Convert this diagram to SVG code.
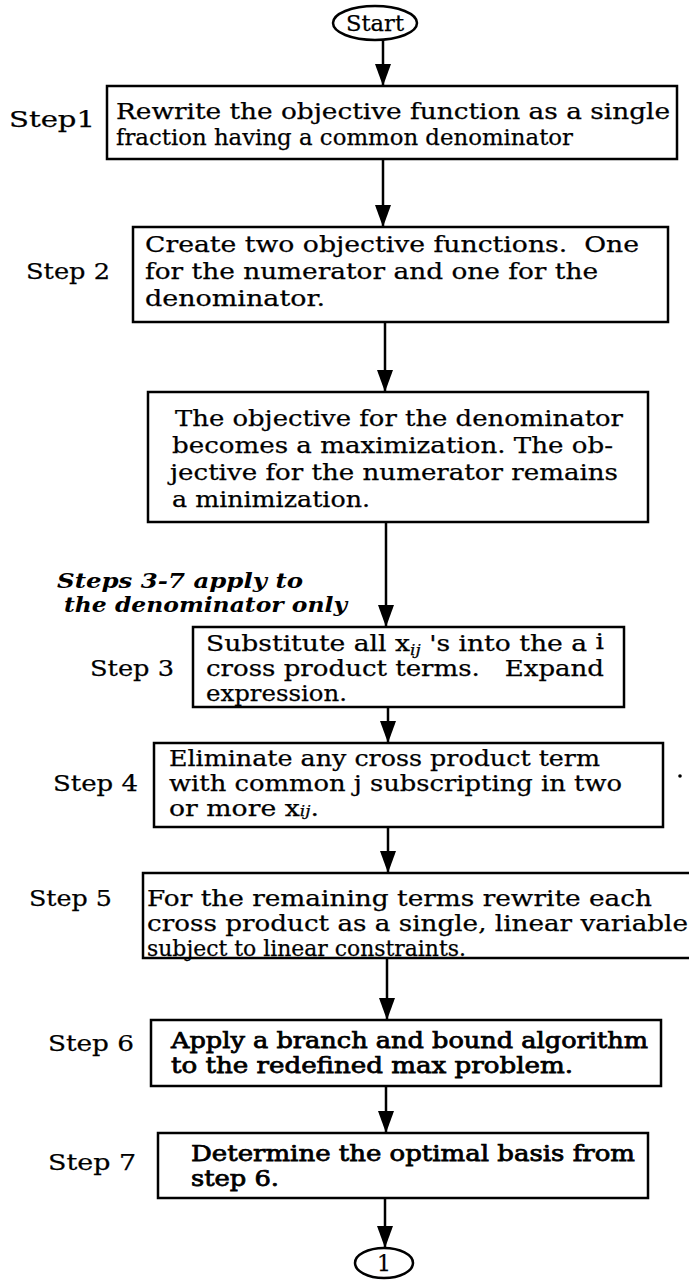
<svg xmlns="http://www.w3.org/2000/svg" width="689" height="1281" viewBox="0 0 689 1281">
<style>
  .box { fill: #fff; stroke: #000; stroke-width: 2.5; }
  .term { fill: #fff; stroke: #000; stroke-width: 2.5; }
  .t { font-family: "DejaVu Serif", "Liberation Serif", serif; font-size: 22px; fill: #000; stroke: #000; stroke-width: 0.25; }
  .b { stroke-width: 0.75; }
  .lbl { font-family: "DejaVu Serif", "Liberation Serif", serif; font-size: 23px; fill: #000; stroke: #000; stroke-width: 0.25; }
  .note { font-family: "DejaVu Serif", "Liberation Serif", serif; font-size: 20px; font-weight: bold; font-style: italic; fill: #000; }
  .sub { font-size: 14px; font-style: italic; }
  .conn { stroke: #000; stroke-width: 2.5; fill: none; marker-end: url(#ah); }
</style>
<defs>
  <marker id="ah" viewBox="0 0 22 16" refX="22" refY="8" markerWidth="22" markerHeight="16" markerUnits="userSpaceOnUse" orient="auto">
    <path d="M0,0 L22,8 L0,16 z" fill="#000"/>
  </marker>
</defs>
<rect width="689" height="1281" fill="#fff"/>

<g id="connectors">
  <line class="conn" x1="383" y1="40" x2="383" y2="86"/>
  <line class="conn" x1="383" y1="159" x2="383" y2="227"/>
  <line class="conn" x1="385" y1="322" x2="385" y2="392"/>
  <line class="conn" x1="386" y1="522" x2="386" y2="627"/>
  <line class="conn" x1="388" y1="707" x2="388" y2="743"/>
  <line class="conn" x1="388" y1="827" x2="388" y2="873"/>
  <line class="conn" x1="387" y1="958" x2="387" y2="1020"/>
  <line class="conn" x1="386" y1="1086" x2="386" y2="1133"/>
  <line class="conn" x1="385" y1="1198" x2="385" y2="1248"/>
</g>

<g id="start">
  <ellipse class="term" cx="375" cy="23" rx="42" ry="17"/>
  <text class="t" x="375" y="31" text-anchor="middle" textLength="58" lengthAdjust="spacingAndGlyphs">Start</text>
</g>

<g id="step1">
  <text class="lbl" x="9" y="127" textLength="86" lengthAdjust="spacingAndGlyphs">Step1</text>
  <rect class="box" x="107" y="86" width="570" height="73"/>
  <text class="t" x="116" y="119" textLength="554" lengthAdjust="spacingAndGlyphs">Rewrite the objective function as a single</text>
  <text class="t" x="116" y="145" textLength="457" lengthAdjust="spacingAndGlyphs">fraction having a common denominator</text>
</g>

<g id="step2">
  <text class="lbl" x="26" y="279" textLength="84" lengthAdjust="spacingAndGlyphs">Step 2</text>
  <rect class="box" x="133" y="227" width="535" height="95"/>
  <text class="t" x="145" y="252" textLength="494" lengthAdjust="spacingAndGlyphs">Create two objective functions.&#160; One</text>
  <text class="t" x="145" y="279" textLength="453" lengthAdjust="spacingAndGlyphs">for the numerator and one for the</text>
  <text class="t" x="145" y="306" textLength="180" lengthAdjust="spacingAndGlyphs">denominator.</text>
</g>

<g id="objective">
  <rect class="box" x="148" y="392" width="500" height="130"/>
  <text class="t" x="175" y="426" textLength="448" lengthAdjust="spacingAndGlyphs">The objective for the denominator</text>
  <text class="t" x="172" y="453" textLength="441" lengthAdjust="spacingAndGlyphs">becomes a maximization. The ob-</text>
  <text class="t" x="170" y="480" textLength="448" lengthAdjust="spacingAndGlyphs">jective for the numerator remains</text>
  <text class="t" x="172" y="507" textLength="198" lengthAdjust="spacingAndGlyphs">a minimization.</text>
</g>

<g id="note">
  <text class="note" x="57" y="588" textLength="246" lengthAdjust="spacingAndGlyphs">Steps 3-7 apply to</text>
  <text class="note" x="64" y="612" textLength="283" lengthAdjust="spacingAndGlyphs">the denominator only</text>
</g>

<g id="step3">
  <text class="lbl" x="90" y="676" textLength="84" lengthAdjust="spacingAndGlyphs">Step 3</text>
  <rect class="box" x="193" y="627" width="431" height="80"/>
  <text class="t" x="206" y="651" textLength="398" lengthAdjust="spacingAndGlyphs">Substitute all x<tspan class="sub" dy="4">ij</tspan><tspan dy="-4"> 's into the a </tspan><tspan dy="-2">i</tspan></text>
  <text class="t" x="206" y="676" textLength="398" lengthAdjust="spacingAndGlyphs">cross product terms.&#160;&#160; Expand</text>
  <text class="t" x="206" y="701" textLength="141" lengthAdjust="spacingAndGlyphs">expression.</text>
</g>

<g id="step4">
  <text class="lbl" x="53" y="791" textLength="85" lengthAdjust="spacingAndGlyphs">Step 4</text>
  <rect class="box" x="154" y="743" width="509" height="84"/>
  <text class="t" x="169" y="766" textLength="431" lengthAdjust="spacingAndGlyphs">Eliminate any cross product term</text>
  <text class="t" x="169" y="791" textLength="453" lengthAdjust="spacingAndGlyphs">with common j subscripting in two</text>
  <text class="t" x="169" y="816" textLength="150" lengthAdjust="spacingAndGlyphs">or more x<tspan class="sub">ij</tspan>.</text>
  <circle cx="680" cy="776" r="1.8" fill="#000"/>
</g>

<g id="step5">
  <text class="lbl" x="29" y="906" textLength="83" lengthAdjust="spacingAndGlyphs">Step 5</text>
  <rect class="box" x="143" y="873" width="560" height="85"/>
  <text class="t" x="147" y="906" textLength="505" lengthAdjust="spacingAndGlyphs">For the remaining terms rewrite each</text>
  <text class="t" x="147" y="931" textLength="541" lengthAdjust="spacingAndGlyphs">cross product as a single, linear variable</text>
  <text class="t" x="147" y="956" textLength="319" lengthAdjust="spacingAndGlyphs">subject to linear constraints.</text>
</g>

<g id="step6">
  <text class="lbl b" x="48" y="1051" textLength="86" lengthAdjust="spacingAndGlyphs">Step 6</text>
  <rect class="box" x="151" y="1020" width="510" height="66"/>
  <text class="t b" x="171" y="1048" textLength="477" lengthAdjust="spacingAndGlyphs">Apply a branch and bound algorithm</text>
  <text class="t b" x="171" y="1073" textLength="402" lengthAdjust="spacingAndGlyphs">to the redefined max problem.</text>
</g>

<g id="step7">
  <text class="lbl b" x="48" y="1170" textLength="88" lengthAdjust="spacingAndGlyphs">Step 7</text>
  <rect class="box" x="158" y="1133" width="490" height="65"/>
  <text class="t b" x="191" y="1161" textLength="444" lengthAdjust="spacingAndGlyphs">Determine the optimal basis from</text>
  <text class="t b" x="191" y="1186" textLength="88" lengthAdjust="spacingAndGlyphs">step 6.</text>
</g>

<g id="connector1">
  <ellipse class="term" cx="384" cy="1263" rx="29" ry="15"/>
  <text class="t" x="384" y="1271" text-anchor="middle">1</text>
</g>
</svg>
